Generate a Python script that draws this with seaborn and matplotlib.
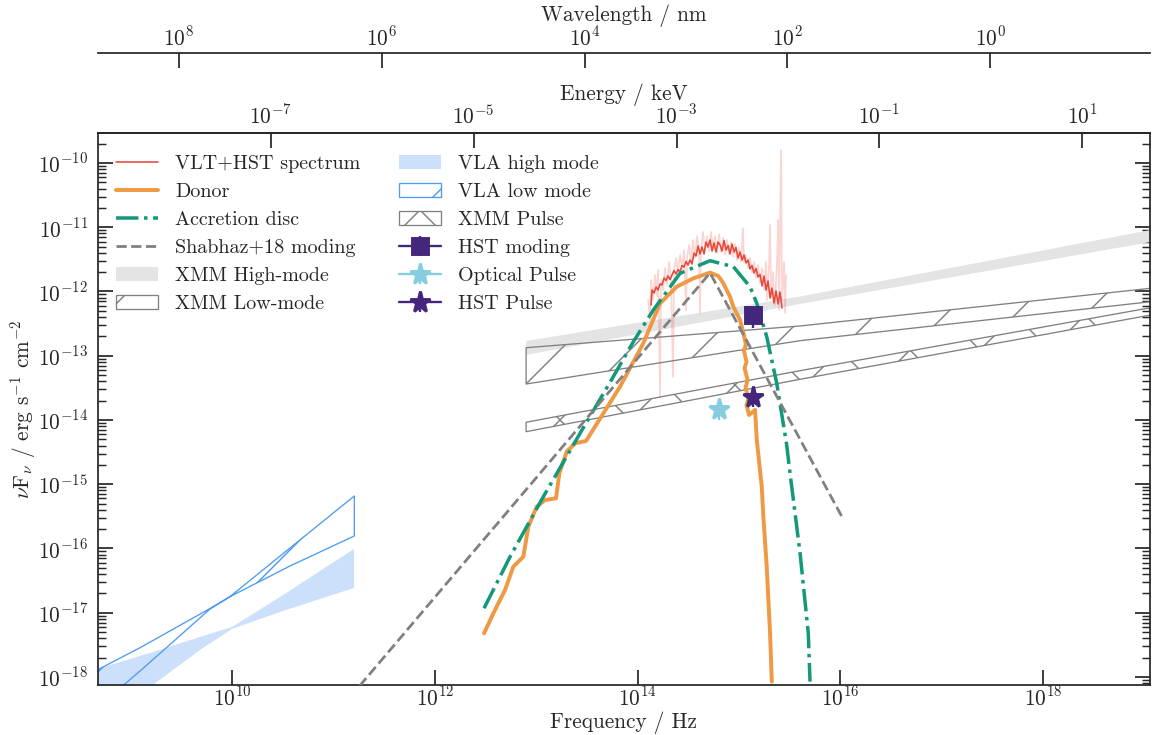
import numpy as np
import matplotlib
matplotlib.use("Agg")
import matplotlib.pyplot as plt
import seaborn as sns
from matplotlib.ticker import FixedLocator, NullLocator, NullFormatter

# ---------------- data: log10(frequency / Hz), log10(nuFnu / erg s^-1 cm^-2) ----------------
spec_lognu = [14.132, 14.142, 14.162, 14.182, 14.201, 14.221, 14.241, 14.260, 14.280, 14.300,
              14.320, 14.339, 14.359, 14.379, 14.398, 14.418, 14.438, 14.458, 14.477, 14.497,
              14.517, 14.536, 14.556, 14.576, 14.596, 14.615, 14.635, 14.655, 14.675, 14.694,
              14.714, 14.734, 14.753, 14.773, 14.793, 14.813, 14.832, 14.852, 14.872, 14.892,
              14.911, 14.931, 14.951, 14.970, 14.990, 15.010, 15.030, 15.049, 15.069, 15.089,
              15.108, 15.128, 15.148, 15.168, 15.187, 15.207, 15.227, 15.247, 15.266, 15.286,
              15.306, 15.325, 15.345, 15.365, 15.385, 15.404, 15.424]
spec_logf = [-12.210, -11.977, -12.023, -11.930, -11.977, -11.883, -11.899, -11.790, -11.829, -11.759,
             -11.813, -11.743, -11.673, -11.728, -11.658, -11.696, -11.595, -11.619, -11.533, -11.588,
             -11.510, -11.572, -11.401, -11.447, -11.292, -11.416, -11.307, -11.416, -11.230, -11.307,
             -11.198, -11.370, -11.245, -11.385, -11.230, -11.276, -11.370, -11.206, -11.354, -11.284,
             -11.416, -11.261, -11.385, -11.315, -11.479, -11.385, -11.510, -11.432, -11.556, -11.510,
             -11.650, -11.595, -11.712, -11.642, -11.774, -11.735, -11.914, -11.759, -11.977, -11.837,
             -12.101, -11.946, -12.179, -11.992, -12.195, -12.008, -12.257]

raw_lognu = [14.103, 14.122, 14.132, 14.152, 14.172, 14.191, 14.201, 14.221, 14.231, 14.251,
             14.270, 14.290, 14.310, 14.329, 14.349, 14.359, 14.379, 14.398, 14.418, 14.438,
             14.458, 14.477, 14.487, 14.507, 14.527, 14.546, 14.566, 14.586, 14.606, 14.615,
             14.625, 14.645, 14.665, 14.684, 14.704, 14.724, 14.744, 14.763, 14.783, 14.803,
             14.822, 14.842, 14.862, 14.882, 14.901, 14.921, 14.941, 14.961, 14.980, 15.000,
             15.020, 15.039, 15.049, 15.069, 15.089, 15.108, 15.128, 15.148, 15.168, 15.187,
             15.207, 15.227, 15.247, 15.266, 15.276, 15.296, 15.306, 15.316, 15.335, 15.355,
             15.375, 15.385, 15.394, 15.414, 15.424, 15.444, 15.454, 15.464]
raw_logf = [-12.132, -12.444, -11.821, -12.132, -11.743, -12.070, -11.665, -13.642, -11.821, -11.977,
            -11.634, -11.899, -11.541, -11.821, -13.331, -11.665, -11.479, -11.696, -11.432, -11.634,
            -11.354, -12.288, -11.479, -11.276, -11.541, -11.198, -11.479, -11.136, -11.385, -12.335,
            -11.354, -11.074, -11.354, -11.136, -11.370, -11.074, -11.354, -11.136, -11.401, -11.105,
            -11.385, -11.167, -11.432, -11.198, -11.416, -11.230, -11.463, -11.261, -11.510, -11.323,
            -11.541, -11.012, -11.541, -11.432, -11.634, -11.479, -11.696, -11.541, -11.790, -11.588,
            -11.868, -11.634, -11.977, -11.541, -12.132, -11.588, -10.965, -12.101, -11.696, -12.210,
            -11.510, -10.887, -12.288, -9.798, -12.132, -11.541, -12.335, -11.743]

donor_lognu = [12.485, 12.577, 12.692, 12.774, 12.873, 12.922, 13.005, 13.087, 13.195, 13.228,
               13.301, 13.383, 13.491, 13.662, 13.826, 14.056, 14.221, 14.386, 14.549, 14.714,
               14.796, 14.845, 14.911, 14.944, 15.010, 15.043, 15.069, 15.047, 15.074, 15.054,
               15.084, 15.064, 15.094, 15.074, 15.099, 15.158, 15.175, 15.224, 15.240, 15.273,
               15.306, 15.323]
donor_logf = [-17.320, -17.009, -16.646, -16.283, -16.128, -15.661, -15.349, -15.245, -15.219, -14.830,
              -14.493, -14.363, -14.327, -13.896, -13.482, -12.806, -12.184, -11.925, -11.795, -11.707,
              -11.759, -11.872, -12.081, -12.237, -12.444, -12.646, -12.833, -12.911, -13.097, -13.191,
              -13.377, -13.502, -13.658, -13.767, -13.922, -13.844, -14.311, -15.038, -15.505, -16.283,
              -17.320, -18.073]

disc_lognu = [12.485, 12.742, 13.070, 13.432, 13.760, 13.958, 14.155, 14.418, 14.714, 14.944,
              15.108, 15.175, 15.273, 15.372, 15.470, 15.503, 15.602, 15.683, 15.700]
disc_logf = [-16.931, -16.128, -15.194, -14.207, -13.326, -12.781, -12.288, -11.717, -11.521, -11.614,
             -11.925, -12.184, -12.704, -13.429, -14.389, -14.830, -16.075, -17.320, -18.073]

shab_lognu = [11.164, 14.714, 16.023]
shab_logf = [-18.314, -11.712, -15.530]

xmm_high_lognu = [12.90, 15.60, 19.06]
xmm_high_lo = [-12.988, -12.195, -11.230]
xmm_high_hi = [-12.770, -12.078, -11.043]

xmm_low_lognu = [12.90, 15.60, 19.06]
xmm_low_lo = [-13.440, -12.766, -12.159]
xmm_low_hi = [-12.875, -12.537, -11.950]

xmm_pulse_lognu = [12.90, 15.60, 19.06]
xmm_pulse_lo = [-14.182, -13.367, -12.366]
xmm_pulse_hi = [-14.036, -13.233, -12.252]

vla_high_lognu = [8.66, 9.191, 9.684, 10.0, 10.473, 10.868, 11.203]
vla_high_lo = [-19.51, -18.156, -17.580, -17.253, -16.988, -16.786, -16.615]
vla_high_hi = [-17.88, -17.627, -17.377, -17.222, -16.755, -16.350, -16.008]

vla_low_lognu = [8.66, 9.093, 9.783, 9.980, 10.572, 11.206]
vla_low_lo = [-18.49, -17.907, -16.942, -16.750, -16.272, -15.805]
vla_low_hi = [-17.90, -17.544, -16.934, -16.750, -15.992, -15.183]

point_names = ["HST moding", "Optical Pulse", "HST Pulse"]
point_lognu = [15.138, 14.803, 15.141]
point_logf = [-12.366, -13.834, -13.637]
point_err_dex = [0.20, 0.17, 0.16]

freq_ticks = [1e10, 1e12, 1e14, 1e16, 1e18]
energy_ticks = [1e-7, 1e-5, 1e-3, 1e-1, 1e1]
wavelength_ticks = [1e8, 1e6, 1e4, 1e2, 1e0]
flux_decades = list(range(-18, -9))

# ---------------- style ----------------
sns.set_theme(style="ticks")
plt.rcParams.update({
    "font.family": ["serif"],
    "font.serif": ["cmr10", "DejaVu Serif"],
    "mathtext.fontset": "cm",
    "axes.formatter.use_mathtext": True,
    "axes.unicode_minus": True,
    "hatch.linewidth": 0.5,
    "axes.linewidth": 0.6,
    "font.size": 7.3,
})

C_RED = "#e8483a"
C_DONOR = "#ee9944"
C_DISC = "#13997a"
C_GREY = "#808080"
C_VLA_FILL = "#cce0fb"
C_VLA_EDGE = "#4d9bf2"
C_XMM_FILL = "#e4e4e4"
C_PURPLE = "#44277d"
C_CYAN = "#88cce0"

DPI = 210
fig = plt.figure(figsize=(1154 / DPI, 735 / DPI), dpi=DPI)
ax = fig.add_axes([98 / 1154, 1 - 685 / 735, (1150 - 98) / 1154, (685 - 133) / 735])


def p(a):
    return 10.0 ** np.asarray(a, dtype=float)


h_xmm_high = ax.fill_between(p(xmm_high_lognu), p(xmm_high_lo), p(xmm_high_hi),
                             facecolor=C_XMM_FILL, edgecolor="none", lw=0, zorder=1)
h_vla_high = ax.fill_between(p(vla_high_lognu), p(vla_high_lo), p(vla_high_hi),
                             facecolor=C_VLA_FILL, edgecolor="none", lw=0, zorder=1)
h_xmm_low = ax.fill_between(p(xmm_low_lognu), p(xmm_low_lo), p(xmm_low_hi),
                            facecolor="none", edgecolor=C_GREY, hatch="/", lw=0.45, zorder=2)
h_xmm_pulse = ax.fill_between(p(xmm_pulse_lognu), p(xmm_pulse_lo), p(xmm_pulse_hi),
                              facecolor="none", edgecolor=C_GREY, hatch="x", lw=0.45, zorder=2)
h_vla_low = ax.fill_between(p(vla_low_lognu), p(vla_low_lo), p(vla_low_hi),
                            facecolor="none", edgecolor=C_VLA_EDGE, hatch="/", lw=0.45, zorder=2)

sns.lineplot(x=p(raw_lognu), y=p(raw_logf), ax=ax, color=C_RED, alpha=0.22, lw=0.6,
             estimator=None, sort=False, zorder=3)
sns.lineplot(x=p(spec_lognu), y=p(spec_logf), ax=ax, color=C_RED, lw=0.55,
             estimator=None, sort=False, zorder=4)
sns.lineplot(x=p(donor_lognu), y=p(donor_logf), ax=ax, color=C_DONOR, lw=1.35,
             estimator=None, sort=False, zorder=5)
sns.lineplot(x=p(disc_lognu), y=p(disc_logf), ax=ax, color=C_DISC, lw=1.2, ls="-.",
             estimator=None, sort=False, zorder=5)
sns.lineplot(x=p(shab_lognu), y=p(shab_logf), ax=ax, color=C_GREY, lw=0.95, ls="--",
             estimator=None, sort=False, zorder=5)

lines = ax.get_lines()
h_spec, h_donor, h_disc, h_shab = lines[1], lines[2], lines[3], lines[4]

markers = ["s", "*", "*"]
mcolors = [C_PURPLE, C_CYAN, C_PURPLE]
msizes = [5.5, 7.5, 7.5]
h_pts = []
for i in range(3):
    f = 10.0 ** point_logf[i]
    lo = f * (1 - 10 ** (-point_err_dex[i]))
    hi = f * (10 ** (0.03) - 1)
    h = ax.errorbar([10.0 ** point_lognu[i]], [f], yerr=[[lo], [hi]], marker=markers[i],
                    color=mcolors[i], ms=msizes[i], lw=0.8, elinewidth=0.8, capsize=0,
                    zorder=7)
    h_pts.append(h)

ax.set_xscale("log")
ax.set_yscale("log")
ax.set_xlim(10 ** 8.678, 10 ** 19.053)
ax.set_ylim(10 ** -18.125, 10 ** -9.533)

ax.xaxis.set_major_locator(FixedLocator(freq_ticks))
ax.xaxis.set_minor_locator(NullLocator())
ymaj = [10.0 ** k for k in flux_decades]
ymin = [m * 10.0 ** k for k in range(-19, -9) for m in range(2, 10)
        if 10 ** -18.125 < m * 10.0 ** k < 10 ** -9.533]
ax.yaxis.set_major_locator(FixedLocator(ymaj))
ax.yaxis.set_minor_locator(FixedLocator(ymin))
ax.yaxis.set_minor_formatter(NullFormatter())
ax.tick_params(axis="x", which="major", direction="in", length=5.3, width=0.6, pad=0.3,
               top=False, labelsize=7.3)
ax.tick_params(axis="y", which="major", direction="in", length=5.3, width=0.6, pad=3.4,
               right=True, labelsize=7.3)
ax.tick_params(axis="y", which="minor", direction="in", length=2.7, width=0.5, right=True)

ax.set_xlabel("Frequency / Hz", fontsize=7.3, labelpad=0.5)
ax.set_ylabel(r"$\nu\mathrm{F}_\nu$ / erg s$^{-1}$ cm$^{-2}$", fontsize=7.3, labelpad=0)

H_KEV = 4.135667696e-18
C_NM = 2.99792458e17


def hz2kev(x):
    return np.asarray(x, dtype=float) * H_KEV


def kev2hz(x):
    return np.asarray(x, dtype=float) / H_KEV


def hz2nm(x):
    x = np.asarray(x, dtype=float)
    with np.errstate(divide="ignore"):
        return C_NM / np.where(x == 0, 1e-300, x)


secE = ax.secondary_xaxis("top", functions=(hz2kev, kev2hz))
secE.xaxis.set_major_locator(FixedLocator(energy_ticks))
secE.xaxis.set_minor_locator(NullLocator())
secE.tick_params(direction="in", length=5.0, width=0.6, pad=1.8, labelsize=7.3)
secE.set_xlabel("Energy / keV", fontsize=7.3, labelpad=1.3)

secW = ax.secondary_xaxis(1.145, functions=(hz2nm, hz2nm))
secW.xaxis.set_major_locator(FixedLocator(wavelength_ticks))
secW.xaxis.set_minor_locator(NullLocator())
secW.tick_params(direction="in", length=5.3, width=0.6, pad=1.3, labelsize=7.3)
secW.set_xlabel("Wavelength / nm", fontsize=7.3, labelpad=1.6)
for s in secW.spines.values():
    s.set_linewidth(0.6)
for s in ax.spines.values():
    s.set_linewidth(0.6)

handles = [h_spec, h_donor, h_disc, h_shab, h_xmm_high, h_xmm_low,
           h_vla_high, h_vla_low, h_xmm_pulse, h_pts[0], h_pts[1], h_pts[2]]
labels = ["VLT+HST spectrum", "Donor", "Accretion disc", "Shabhaz+18 moding",
          "XMM High-mode", "XMM Low-mode", "VLA high mode", "VLA low mode", "XMM Pulse",
          "HST moding", "Optical Pulse", "HST Pulse"]
ax.legend(handles, labels, ncol=2, loc="upper left", bbox_to_anchor=(0.0, 1 - 4 / 552),
          frameon=False, fontsize=6.9, handlelength=2.1, handletextpad=0.85,
          labelspacing=0.49, columnspacing=1.9)

fig.savefig("out.png", dpi=DPI)
